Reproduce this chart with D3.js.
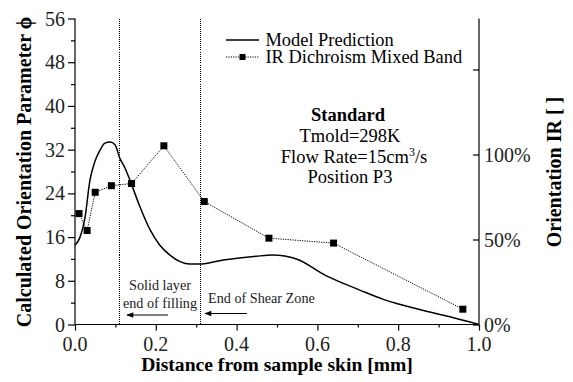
<!DOCTYPE html>
<html><head><meta charset="utf-8">
<script src="https://cdn.jsdelivr.net/npm/d3@7"></script>
<style>
html,body{margin:0;padding:0;background:#fff;}
svg{display:block;}
</style></head>
<body>
<svg id="chart" width="573" height="382"></svg>
<script>
// Data
const modelX = [0, 0.012, 0.025, 0.037, 0.049, 0.062, 0.074, 0.087, 0.099, 0.111, 0.124, 0.136, 0.161, 0.186, 0.21, 0.235, 0.26, 0.284, 0.309, 0.367, 0.449, 0.49, 0.548, 0.62, 0.705, 0.763, 0.796, 0.878, 0.928, 1.0];
const modelY = [14.5, 15.9, 19.7, 26.4, 29.8, 31.9, 33.2, 33.4, 32.9, 30.4, 28.6, 26.4, 21.5, 17.3, 14.5, 12.7, 11.5, 11.05, 11.05, 11.8, 12.5, 12.7, 12.0, 9.0, 6.3, 4.6, 3.85, 2.3, 1.4, 0];
const irX = [0.01, 0.03, 0.05, 0.09, 0.14, 0.22, 0.32, 0.48, 0.64, 0.96];
const irY = [20.3, 17.2, 24.2, 25.4, 25.8, 32.7, 22.5, 15.8, 14.9, 2.8];
const xTicks = [0, 0.2, 0.4, 0.6, 0.8, 1.0];
const yTicks = [0, 8, 16, 24, 32, 40, 48, 56];
const yRTicks = [0, 50, 100, 150];
const yRLabels = ["0%", "50%", "100%", ""];
const vLines = [0.11, 0.31];
const legendLabels = ["Model Prediction", "IR Dichroism Mixed Band"];
const infoLines = ["Standard", "Tmold=298K", "Flow Rate=15cm", "Position P3"];

const W = 573, H = 382;
const m = {left: 75, right: 94, top: 18.5, bottom: 57.5};
const svg = d3.select("#chart");
const x = d3.scaleLinear().domain([0, 1]).range([m.left, W - m.right]);
const y = d3.scaleLinear().domain([0, 56]).range([H - m.bottom, m.top]);
const yR = d3.scaleLinear().domain([0, 180]).range([H - m.bottom, m.top]);

const tickFont = 20;

// X axis
const xAxis = svg.append("g").attr("transform", `translate(0,${H - m.bottom})`);
xAxis.call(d3.axisBottom(x).tickValues(d3.range(0, 1.0001, 0.1)).tickSize(3).tickFormat(""));
xAxis.call(g => g.selectAll(".tick").filter(d => xTicks.some(t => Math.abs(t - d) < 1e-6)).select("line").attr("y2", 6));
xAxis.selectAll(".domain").attr("d", `M${m.left},0H${W - m.right}`);
xAxis.selectAll("line,path").attr("stroke", "#000").attr("stroke-width", 1.2);
svg.append("g").selectAll("text").data(xTicks).join("text")
  .attr("x", d => x(d)).attr("y", H - m.bottom + 26)
  .attr("text-anchor", "middle").attr("font-size", tickFont).attr("fill", "#222")
  .text(d => d.toFixed(1));

// Left Y axis
const yAxis = svg.append("g").attr("transform", `translate(${m.left},0)`);
yAxis.call(d3.axisLeft(y).tickValues(d3.range(0, 57, 4)).tickSize(4).tickFormat(""));
yAxis.call(g => g.selectAll(".tick").filter(d => d % 8 === 0).select("line").attr("x2", -7));
yAxis.selectAll(".domain").attr("d", `M0,${y(0)}V${y(56)}`);
yAxis.selectAll("line,path").attr("stroke", "#000").attr("stroke-width", 1.2);
svg.append("g").selectAll("text").data(yTicks).join("text")
  .attr("x", m.left - 10).attr("y", d => y(d)).attr("dy", "0.35em")
  .attr("text-anchor", "end").attr("font-size", tickFont).attr("fill", "#222")
  .text(d => d);

// Right Y axis (ticks inward)
const yRAxis = svg.append("g").attr("transform", `translate(${W - m.right},0)`);
yRAxis.call(d3.axisLeft(yR).tickValues(yRTicks).tickSize(6).tickFormat(""));
yRAxis.selectAll(".domain").attr("d", `M0,${yR(0)}V${m.top}`);
yRAxis.selectAll("line,path").attr("stroke", "#000").attr("stroke-width", 1.2);
svg.append("g").selectAll("text").data(yRTicks).join("text")
  .attr("x", W - m.right + 5).attr("y", d => yR(d)).attr("dy", "0.35em")
  .attr("text-anchor", "start").attr("font-size", tickFont).attr("fill", "#222")
  .text((d, i) => yRLabels[i]);

// Vertical dotted lines
svg.append("g").selectAll("line").data(vLines).join("line")
  .attr("x1", d => Math.round(x(d)) + 0.5).attr("x2", d => Math.round(x(d)) + 0.5)
  .attr("y1", y(56)).attr("y2", y(0))
  .attr("stroke", "#000").attr("stroke-width", 1).attr("stroke-dasharray", "1,1")
  .attr("shape-rendering", "crispEdges");

// Model curve
const modelData = modelX.map((d, i) => [d, modelY[i]]);
svg.append("path").datum(modelData)
  .attr("fill", "none").attr("stroke", "#000").attr("stroke-width", 1.5)
  .attr("d", d3.line().x(d => x(d[0])).y(d => y(d[1])).curve(d3.curveMonotoneX));

// IR series
const irData = irX.map((d, i) => [d, irY[i]]);
svg.append("path").datum(irData)
  .attr("fill", "none").attr("stroke", "#000").attr("stroke-width", 1).attr("stroke-dasharray", "1.2,1.2")
  .attr("d", d3.line().x(d => x(d[0])).y(d => y(d[1])));
svg.append("g").selectAll("rect").data(irData).join("rect")
  .attr("x", d => x(d[0]) - 3.5).attr("y", d => y(d[1]) - 3.5)
  .attr("width", 7).attr("height", 7).attr("fill", "#000");

// Legend
const lg = svg.append("g");
lg.append("line").attr("x1", 226).attr("x2", 259).attr("y1", 40).attr("y2", 40).attr("stroke", "#000").attr("stroke-width", 1.5);
lg.append("line").attr("x1", 226).attr("x2", 259).attr("y1", 57).attr("y2", 57).attr("stroke", "#000").attr("stroke-width", 1).attr("stroke-dasharray", "1.2,1.2");
lg.append("rect").attr("x", 239.5).attr("y", 54).attr("width", 6).attr("height", 6).attr("fill", "#000");
lg.selectAll("text").data(legendLabels).join("text")
  .attr("x", 265.5).attr("y", (d, i) => 40 + i * 17).attr("dy", "0.33em")
  .attr("font-size", 18.4).text(d => d);

// Info block
const cx = 350;
svg.append("text").attr("x", cx - 2).attr("y", 121).attr("text-anchor", "middle").attr("font-size", 18.5).attr("font-weight", "bold").text(infoLines[0]);
svg.append("text").attr("x", cx).attr("y", 142).attr("text-anchor", "middle").attr("font-size", 18.5).text(infoLines[1]);
const fr = svg.append("text").attr("x", cx + 4).attr("y", 163).attr("text-anchor", "middle").attr("font-size", 18.5);
fr.append("tspan").text(infoLines[2]);
fr.append("tspan").attr("font-size", 12).attr("dy", -7).text("3");
fr.append("tspan").attr("dy", 7).text("/s");
svg.append("text").attr("x", cx).attr("y", 183).attr("text-anchor", "middle").attr("font-size", 18.5).text(infoLines[3]);

// Annotations
svg.append("defs").append("marker").attr("id", "ah").attr("viewBox", "0 0 10 10")
  .attr("refX", 9).attr("refY", 5).attr("markerWidth", 9).attr("markerHeight", 7)
  .attr("markerUnits", "userSpaceOnUse").attr("orient", "auto")
  .append("path").attr("d", "M0,1 L10,5 L0,9 Z").attr("fill", "#000");
svg.append("text").attr("x", 160).attr("y", 290).attr("text-anchor", "middle").attr("font-size", 14.2).attr("fill","#222").text("Solid layer");
svg.append("text").attr("x", 160).attr("y", 308).attr("text-anchor", "middle").attr("font-size", 14.2).attr("fill","#222").text("end of filling");
svg.append("line").attr("x1", 168).attr("x2", 127).attr("y1", 315).attr("y2", 315).attr("stroke", "#000").attr("stroke-width", 1.2).attr("marker-end", "url(#ah)");
svg.append("text").attr("x", 208).attr("y", 303).attr("font-size", 14.2).attr("fill","#222").text("End of Shear Zone");
svg.append("line").attr("x1", 247).attr("x2", 205).attr("y1", 313.5).attr("y2", 313.5).attr("stroke", "#000").attr("stroke-width", 1.2).attr("marker-end", "url(#ah)");

// Axis titles
svg.append("text").attr("x", 277).attr("y", 371).attr("text-anchor", "middle")
  .attr("font-size", 19.6).attr("font-weight", "bold").text("Distance from sample skin [mm]");
svg.append("text").attr("transform", "translate(31,172) rotate(-90)").attr("text-anchor", "middle")
  .attr("font-size", 20).attr("font-weight", "bold").text("Calculated Orientation Parameter ϕ");
svg.append("text").attr("transform", "translate(561,172) rotate(-90)").attr("text-anchor", "middle")
  .attr("font-size", 20).attr("font-weight", "bold").text("Orientation IR [ ]");

svg.selectAll("text").style("font-family", '"Liberation Serif"');
</script>
</body></html>
